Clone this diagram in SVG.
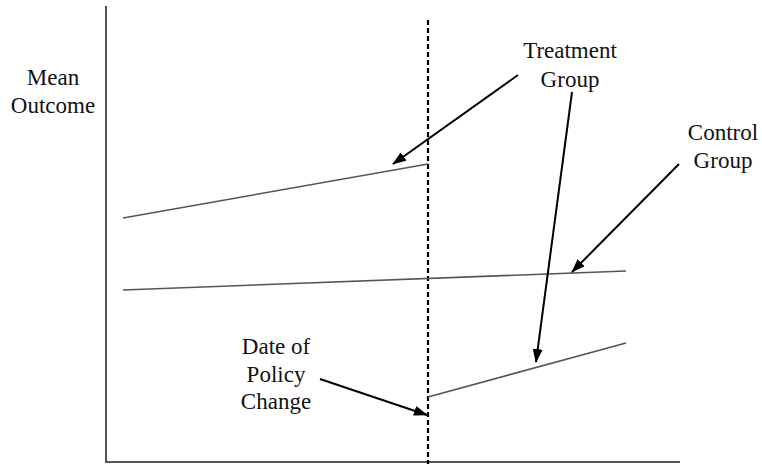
<svg xmlns="http://www.w3.org/2000/svg" width="762" height="464" viewBox="0 0 762 464">
<style>
.lbl{font-family:"Liberation Serif","Times New Roman",serif;font-size:23px;fill:#111;text-anchor:middle}
.axis{stroke:#555;stroke-width:2;fill:none}
.data{stroke:#555;stroke-width:1.6;fill:none}
.arr{stroke:#000;stroke-width:2;fill:none;marker-end:url(#ah)}
.dash{stroke:#000;stroke-width:2.2;stroke-dasharray:5,3;fill:none}
</style>
<defs>
<marker id="ah" viewBox="0 0 14 10" refX="13" refY="5" markerWidth="14" markerHeight="10" markerUnits="userSpaceOnUse" orient="auto">
<path d="M0,0 L14,5 L0,10 z" fill="#000"/>
</marker>
</defs>
<rect width="762" height="464" fill="#fff"/>
<g id="axes">
<line class="axis" x1="106" y1="6" x2="106" y2="463"/>
<line class="axis" x1="106" y1="462" x2="680" y2="462"/>
</g>
<g id="policy-line">
<line class="dash" x1="428" y1="20" x2="428" y2="464"/>
</g>
<g id="treatment-pre"><line class="data" x1="123" y1="218" x2="428" y2="164"/></g>
<g id="control-line"><line class="data" x1="123" y1="290" x2="626" y2="271"/></g>
<g id="treatment-post"><line class="data" x1="428" y1="397" x2="626" y2="343"/></g>
<g id="label-mean-outcome">
<text class="lbl" x="53" y="85">Mean</text>
<text class="lbl" x="53" y="113">Outcome</text>
</g>
<g id="label-treatment">
<text class="lbl" x="570" y="58">Treatment</text>
<text class="lbl" x="570" y="87">Group</text>
</g>
<g id="label-control">
<text class="lbl" x="723" y="140">Control</text>
<text class="lbl" x="723" y="168">Group</text>
</g>
<g id="label-date">
<text class="lbl" x="276" y="354">Date of</text>
<text class="lbl" x="276" y="382">Policy</text>
<text class="lbl" x="276" y="409">Change</text>
</g>
<g id="connectors">
<line class="arr" x1="518" y1="75" x2="393" y2="164"/>
<line class="arr" x1="572" y1="92" x2="536" y2="362"/>
<line class="arr" x1="679" y1="164" x2="572" y2="272"/>
<line class="arr" x1="320" y1="379" x2="427" y2="415"/>
</g>
</svg>
